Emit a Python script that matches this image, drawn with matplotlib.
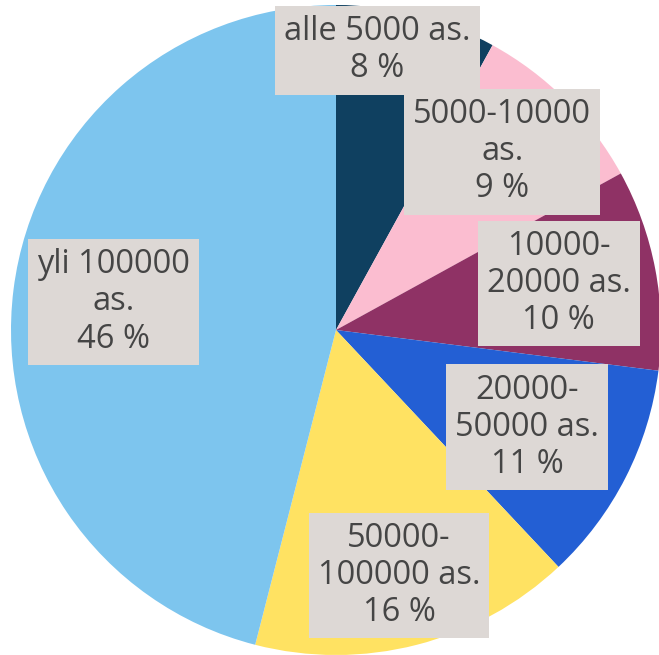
import numpy as np
import matplotlib
matplotlib.use("Agg")
import matplotlib.pyplot as plt

# municipality size classes and their share (%)
LABELS = ["alle 5000 as.", "5000-10000\nas.", "10000-\n20000 as.",
          "20000-\n50000 as.", "50000-\n100000 as.", "yli 100000\nas."]
SHARES = [8, 9, 10, 11, 16, 46]
COLORS = ["#0f4060", "#fbbdd0", "#8f3265", "#235fd4", "#ffe262", "#7dc5ee"]

# label placement (fraction of radius, angle tweak in degrees)
LABEL_R = [0.87, 0.75, 0.70, 0.66, 0.78, 0.69]
LABEL_DA = [6, 2, 1, 0, 0, 0]

fig = plt.figure(figsize=(6.59, 6.55), dpi=100)
ax = fig.add_axes([0, 0, 1, 1])
wedges, _ = ax.pie(SHARES, colors=COLORS, startangle=90, counterclock=False,
                   radius=1, wedgeprops=dict(linewidth=0))

for w, lbl, s, r, da in zip(wedges, LABELS, SHARES, LABEL_R, LABEL_DA):
    ang = np.deg2rad((w.theta1 + w.theta2) / 2 + da)
    ax.text(r * np.cos(ang), r * np.sin(ang), f"{lbl}\n{s} %",
            ha="center", va="center", fontsize=23.5, color="#454545",
            family="Open Sans", linespacing=1.17,
            bbox=dict(boxstyle="square,pad=0.28", fc="#ddd8d5", ec="none"))

ax.set_xlim(-336 / 325, 323 / 325)
ax.set_ylim(-325 / 325, 330 / 325)
ax.set_aspect("equal")
ax.axis("off")
fig.savefig("out.png", dpi=100)
